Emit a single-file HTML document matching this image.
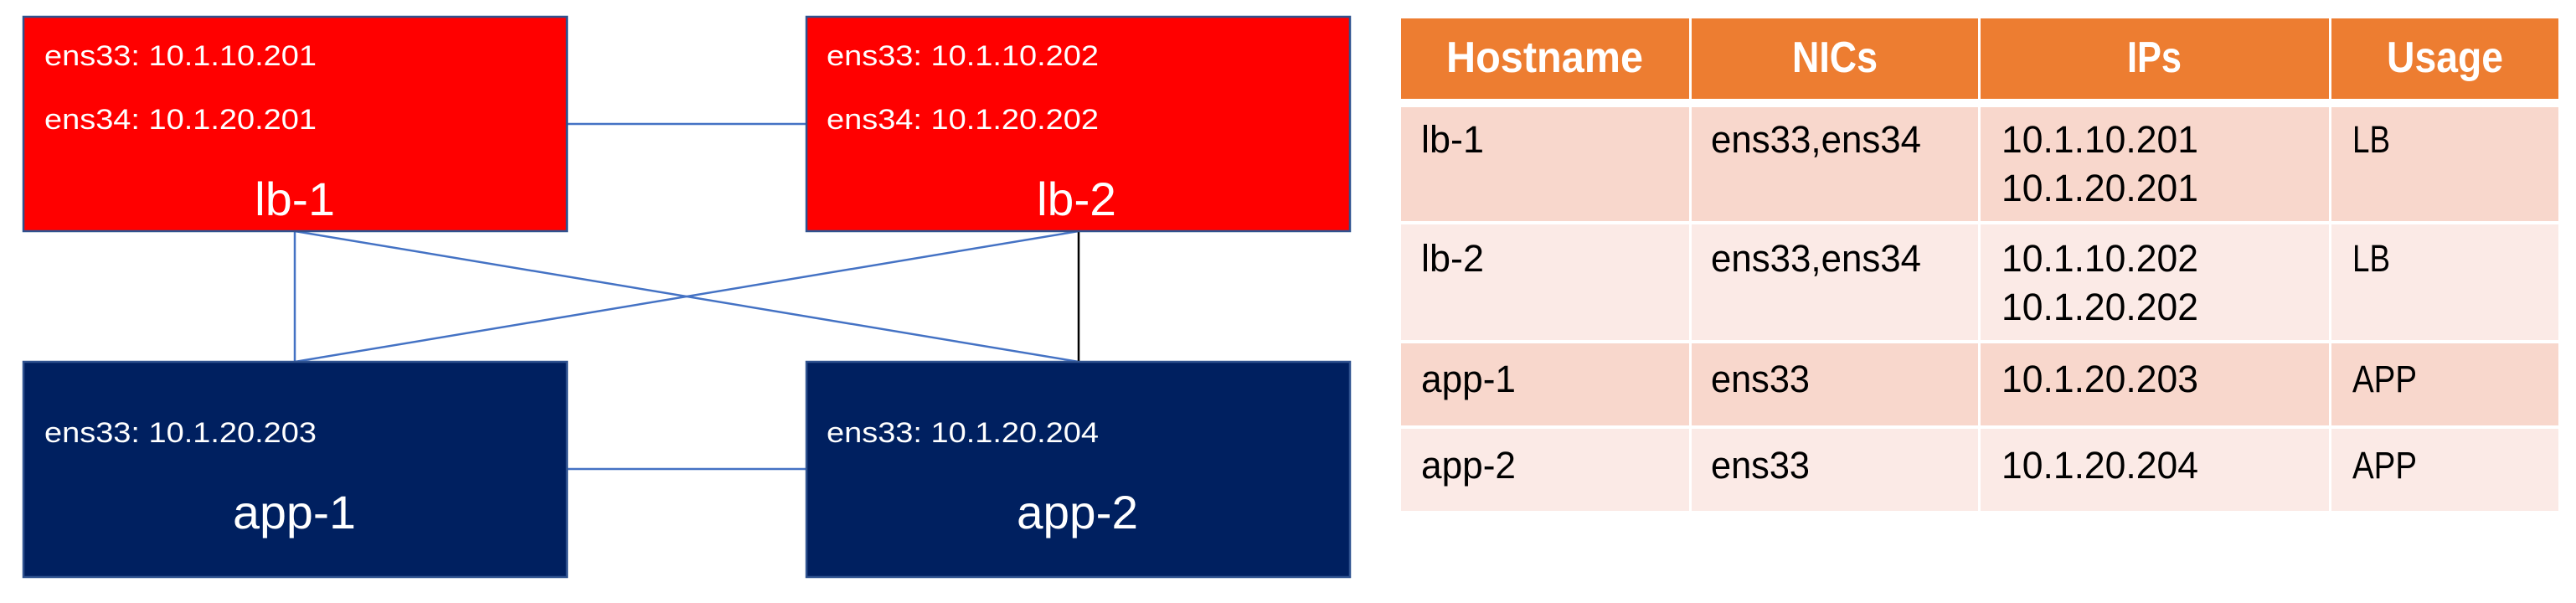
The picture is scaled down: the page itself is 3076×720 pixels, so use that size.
<!DOCTYPE html>
<html><head><meta charset="utf-8"><style>
html,body{margin:0;padding:0;background:#fff;width:3076px;height:720px;overflow:hidden}
text{font-family:"Liberation Sans",sans-serif}
</style></head><body>
<svg width="3076" height="720" xmlns="http://www.w3.org/2000/svg">
<!-- connectors -->
<g stroke="#4472C4" stroke-width="2.5" fill="none">
<line x1="677" y1="148" x2="963" y2="148"/>
<line x1="677" y1="560" x2="963" y2="560"/>
<line x1="352" y1="276" x2="352" y2="432"/>
<line x1="352" y1="276" x2="1288" y2="432"/>
<line x1="1288" y1="276" x2="352" y2="432"/>
</g>
<line x1="1288" y1="276" x2="1288" y2="432" stroke="#000" stroke-width="2.5"/>
<!-- boxes -->
<g stroke="#2F528F" stroke-width="2.5">
<rect x="28" y="20" width="649" height="256" fill="#FF0000"/>
<rect x="963" y="20" width="649" height="256" fill="#FF0000"/>
<rect x="28" y="432" width="649" height="257" fill="#002060"/>
<rect x="963" y="432" width="649" height="257" fill="#002060"/>
</g>
<g fill="#fff" font-size="34">
<text x="53" y="78" textLength="325" lengthAdjust="spacingAndGlyphs">ens33: 10.1.10.201</text>
<text x="53" y="154" textLength="325" lengthAdjust="spacingAndGlyphs">ens34: 10.1.20.201</text>
<text x="987" y="78" textLength="325" lengthAdjust="spacingAndGlyphs">ens33: 10.1.10.202</text>
<text x="987" y="154" textLength="325" lengthAdjust="spacingAndGlyphs">ens34: 10.1.20.202</text>
<text x="53" y="528" textLength="325" lengthAdjust="spacingAndGlyphs">ens33: 10.1.20.203</text>
<text x="987" y="528" textLength="325" lengthAdjust="spacingAndGlyphs">ens33: 10.1.20.204</text>
</g>
<g fill="#fff" font-size="56">
<text x="304" y="257" textLength="96" lengthAdjust="spacingAndGlyphs">lb-1</text>
<text x="1238" y="257" textLength="95" lengthAdjust="spacingAndGlyphs">lb-2</text>
<text x="278" y="631" textLength="147" lengthAdjust="spacingAndGlyphs">app-1</text>
<text x="1214" y="631" textLength="145" lengthAdjust="spacingAndGlyphs">app-2</text>
</g>
<!-- table -->
<g fill="#ED7D31">
<rect x="1673" y="22" width="344" height="96"/>
<rect x="2020" y="22" width="342" height="96"/>
<rect x="2365" y="22" width="416" height="96"/>
<rect x="2784" y="22" width="271" height="96"/>
</g>
<g fill="#F8D7CC">
<rect x="1673" y="128" width="344" height="136"/><rect x="2020" y="128" width="342" height="136"/><rect x="2365" y="128" width="416" height="136"/><rect x="2784" y="128" width="271" height="136"/>
<rect x="1673" y="410" width="344" height="98"/><rect x="2020" y="410" width="342" height="98"/><rect x="2365" y="410" width="416" height="98"/><rect x="2784" y="410" width="271" height="98"/>
</g>
<g fill="#FBEAE6">
<rect x="1673" y="268" width="344" height="138"/><rect x="2020" y="268" width="342" height="138"/><rect x="2365" y="268" width="416" height="138"/><rect x="2784" y="268" width="271" height="138"/>
<rect x="1673" y="512" width="344" height="98"/><rect x="2020" y="512" width="342" height="98"/><rect x="2365" y="512" width="416" height="98"/><rect x="2784" y="512" width="271" height="98"/>
</g>
<g fill="#fff" font-size="52" font-weight="bold">
<text x="1727" y="86" textLength="235" lengthAdjust="spacingAndGlyphs">Hostname</text>
<text x="2140" y="86" textLength="102" lengthAdjust="spacingAndGlyphs">NICs</text>
<text x="2540" y="86" textLength="65" lengthAdjust="spacingAndGlyphs">IPs</text>
<text x="2850" y="86" textLength="139" lengthAdjust="spacingAndGlyphs">Usage</text>
</g>
<g fill="#000" font-size="45">
<text x="1697" y="182" textLength="75" lengthAdjust="spacingAndGlyphs">lb-1</text>
<text x="2043" y="182" textLength="251" lengthAdjust="spacingAndGlyphs">ens33,ens34</text>
<text x="2390" y="182" textLength="235" lengthAdjust="spacingAndGlyphs">10.1.10.201</text>
<text x="2390" y="240" textLength="235" lengthAdjust="spacingAndGlyphs">10.1.20.201</text>
<text x="2809" y="182" textLength="45" lengthAdjust="spacingAndGlyphs">LB</text>
<text x="1697" y="324" textLength="75" lengthAdjust="spacingAndGlyphs">lb-2</text>
<text x="2043" y="324" textLength="251" lengthAdjust="spacingAndGlyphs">ens33,ens34</text>
<text x="2390" y="324" textLength="235" lengthAdjust="spacingAndGlyphs">10.1.10.202</text>
<text x="2390" y="382" textLength="235" lengthAdjust="spacingAndGlyphs">10.1.20.202</text>
<text x="2809" y="324" textLength="45" lengthAdjust="spacingAndGlyphs">LB</text>
<text x="1697" y="468" textLength="113" lengthAdjust="spacingAndGlyphs">app-1</text>
<text x="2043" y="468" textLength="118" lengthAdjust="spacingAndGlyphs">ens33</text>
<text x="2390" y="468" textLength="235" lengthAdjust="spacingAndGlyphs">10.1.20.203</text>
<text x="2809" y="468" textLength="77" lengthAdjust="spacingAndGlyphs">APP</text>
<text x="1697" y="571" textLength="113" lengthAdjust="spacingAndGlyphs">app-2</text>
<text x="2043" y="571" textLength="118" lengthAdjust="spacingAndGlyphs">ens33</text>
<text x="2390" y="571" textLength="235" lengthAdjust="spacingAndGlyphs">10.1.20.204</text>
<text x="2809" y="571" textLength="77" lengthAdjust="spacingAndGlyphs">APP</text>
</g>
</svg>
</body></html>
